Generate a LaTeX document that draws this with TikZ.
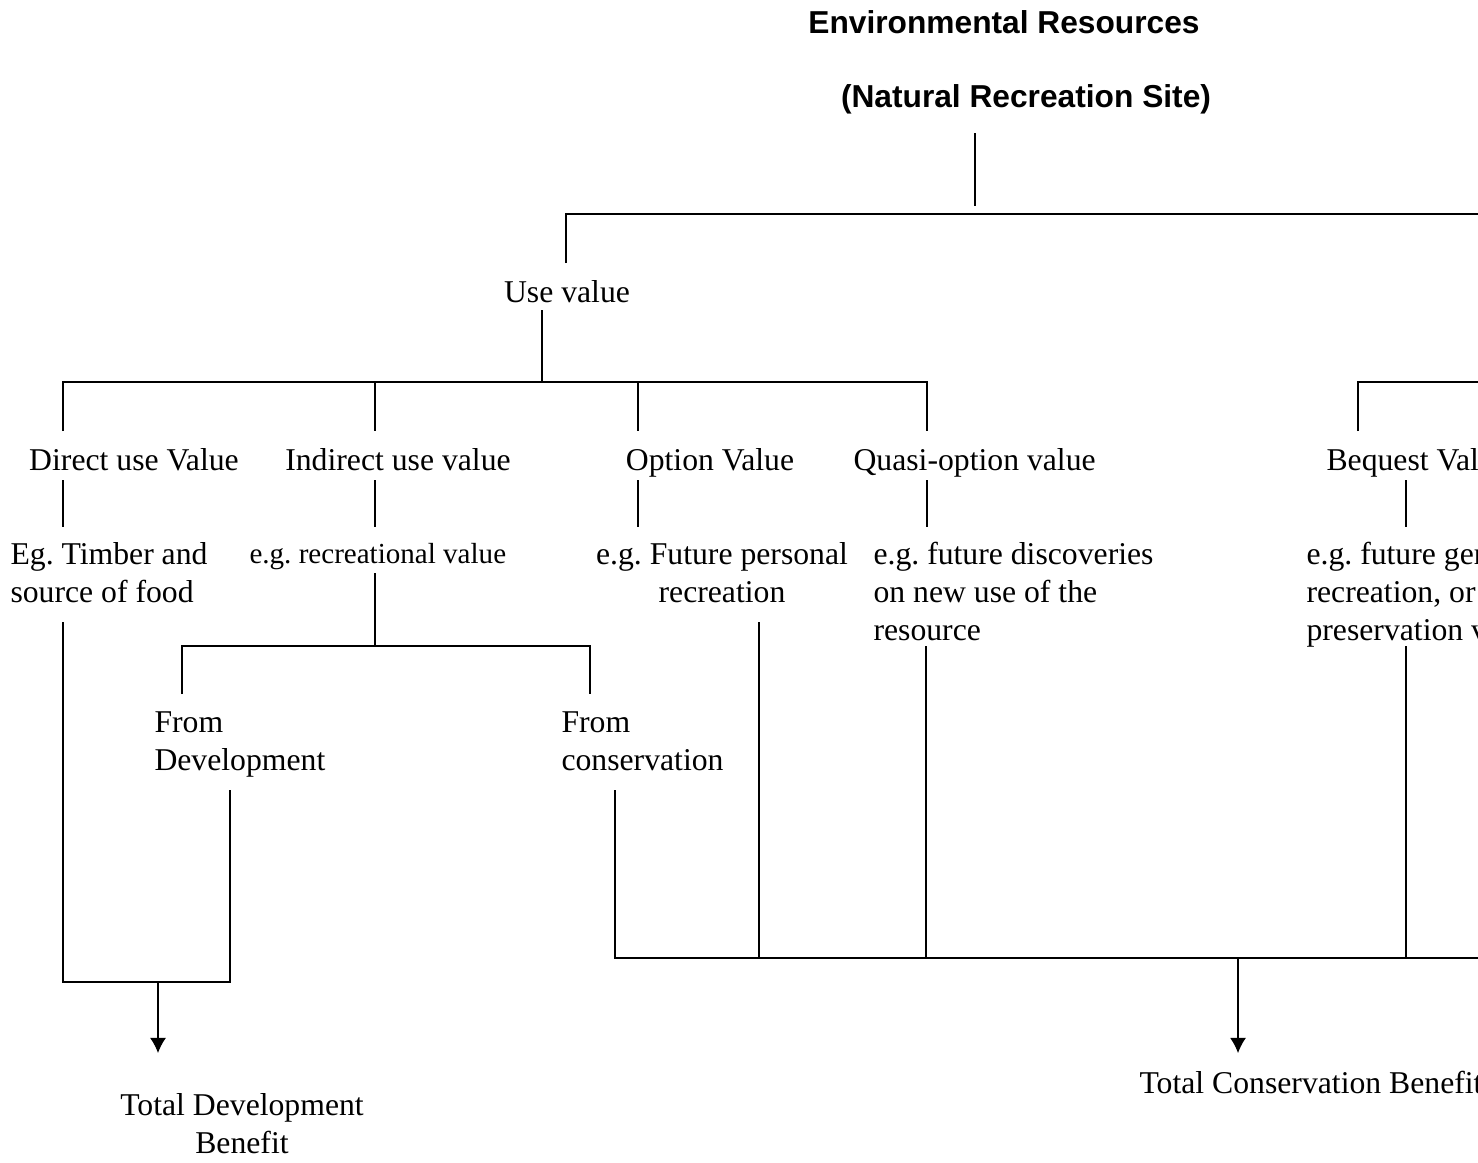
\documentclass[tikz,border=0pt]{standalone}
\usepackage{fontspec}
\setmainfont{Liberation Serif}
\newfontfamily\headfont{Liberation Sans}
\usetikzlibrary{arrows.meta}
\frenchspacing
\tikzset{
    lbl/.style={inner sep=0pt, anchor=base, font=\fontsize{12}{14.2}\selectfont},
    sml/.style={lbl, font=\fontsize{11}{13}\selectfont},
    head/.style={inner sep=0pt, anchor=base, font=\headfont\bfseries\fontsize{12}{14.4}\selectfont},
    wire/.style={line width=0.45pt},
    flow/.style={wire, -{Latex[length=5.7pt,width=6pt]}}
}
\begin{document}
\begin{tikzpicture}[x=0.3785pt, y=-0.3785pt]
    \useasboundingbox (0,0) rectangle (1478,1162);
    \clip (0,0) rectangle (1478,1162);
    % headings
    \node[head] (env) at (1004,33) {Environmental Resources};
    \node[head] (site) at (1026,107) {(Natural Recreation Site)};
    % values
    \node[lbl] (use) at (567,302) {Use value};
    \node[lbl] (direct) at (134,470) {Direct use Value};
    \node[lbl] (indirect) at (398,470) {Indirect use value};
    \node[lbl] (option) at (710,470) {Option Value};
    \node[lbl, anchor=base west] (quasi) at (853,470) {Quasi-option value};
    \node[lbl, anchor=base west] (bequest) at (1326,470) {Bequest Value};
    % examples (base = last line)
    \node[lbl, anchor=base west, align=left] (egdirect) at (10,602) {Eg. Timber and\\source of food};
    \node[sml, anchor=base west] (egindirect) at (249,563) {e.g. recreational value};
    \node[lbl, align=center] (egoption) at (722,602) {e.g. Future personal\\recreation};
    \node[lbl, anchor=base west, align=left] (egquasi) at (873,640) {e.g. future discoveries\\on new use of the\\resource};
    \node[lbl, anchor=base west, align=left] (egbequest) at (1306,640) {e.g. future generation\\recreation, or\\preservation value};
    \node[lbl, anchor=base west, align=left] (fromdev) at (154,770) {From\\Development};
    \node[lbl, anchor=base west, align=left] (fromcons) at (561,770) {From\\conservation};
    % totals
    \node[lbl, align=center] (totaldev) at (242,1153) {Total Development\\Benefit};
    \node[lbl, anchor=base west] (totalcons) at (1139,1093) {Total Conservation Benefit};

    % top split
    \coordinate (envfoot) at (975,133);
    \coordinate (envend) at (975,206);
    \coordinate (usetop) at (566,263);
    \coordinate (usecorner) at (566,214);
    \coordinate (topright) at (1500,214);
    \draw[wire] (envfoot) -- (envend);
    \draw[wire] (usetop) -- (usecorner) -- (topright);
    % use value split
    \coordinate (usefoot) at (542,310);
    \coordinate (usejoin) at (542,382);
    \draw[wire] (usefoot) -- (usejoin);
    \foreach \n/\x in {direct/63, indirect/375, option/638, quasi/927, bequest/1358} {
        \coordinate (\n-up) at (\x,382);
        \coordinate (\n-top) at (\x,431);
    }
    \coordinate (nonuse) at (1500,382);
    \draw[wire] (direct-top) -- (direct-up) -- (quasi-up) -- (quasi-top);
    \draw[wire] (indirect-up) -- (indirect-top);
    \draw[wire] (option-up) -- (option-top);
    \draw[wire] (bequest-top) -- (bequest-up) -- (nonuse);
    % value to example
    \foreach \n/\x in {direct/63, indirect/375, option/638, quasi/927, bequest/1406} {
        \coordinate (\n-a) at (\x,480);
        \coordinate (\n-b) at (\x,527);
        \draw[wire] (\n-a) -- (\n-b);
    }
    % indirect split
    \coordinate (egindirect-foot) at (375,573);
    \coordinate (split) at (375,646);
    \coordinate (dev-up) at (182,646);
    \coordinate (dev-top) at (182,694);
    \coordinate (cons-up) at (590,646);
    \coordinate (cons-top) at (590,694);
    \draw[wire] (egindirect-foot) -- (split);
    \draw[wire] (dev-top) -- (dev-up) -- (cons-up) -- (cons-top);
    % development side
    \coordinate (egdirect-foot) at (63,622);
    \coordinate (devl) at (63,982);
    \coordinate (devr) at (230,982);
    \coordinate (fromdev-foot) at (230,790);
    \coordinate (devmid) at (158,982);
    \coordinate (devtip) at (158,1053);
    \draw[wire] (egdirect-foot) -- (devl) -- (devr) -- (fromdev-foot);
    \draw[flow] (devmid) -- (devtip);
    % conservation side
    \coordinate (fromcons-foot) at (615,790);
    \coordinate (consl) at (615,958);
    \coordinate (consr) at (1500,958);
    \draw[wire] (fromcons-foot) -- (consl) -- (consr);
    \foreach \n/\x/\y in {egoption/759/622, egquasi/926/646, egbequest/1406/646} {
        \coordinate (\n-foot) at (\x,\y);
        \coordinate (\n-join) at (\x,958);
        \draw[wire] (\n-foot) -- (\n-join);
    }
    \coordinate (consmid) at (1238,958);
    \coordinate (constip) at (1238,1053);
    \draw[flow] (consmid) -- (constip);
\end{tikzpicture}
\end{document}
